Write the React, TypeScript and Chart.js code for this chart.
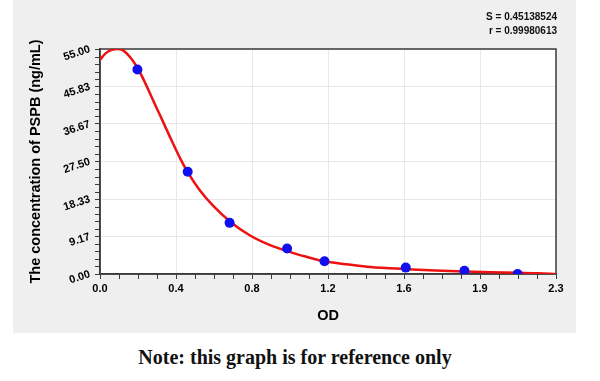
import React, { useEffect, useRef } from "react";
import { Chart, registerables } from "chart.js";

Chart.register(...registerables);

// Standard points (OD, concentration ng/mL)
const pointOD = [0.192, 0.45, 0.665, 0.96, 1.152, 1.569, 1.87, 2.143];
const pointConc = [50, 25, 12.5, 6.25, 3.125, 1.5625, 0.78, 0];

// Fitted curve
const curveOD = [0, 0.03, 0.06, 0.09, 0.12, 0.155, 0.19, 0.23, 0.27, 0.31, 0.36, 0.41, 0.45, 0.51, 0.58, 0.67, 0.77, 0.87, 0.96, 1.06, 1.15, 1.26, 1.37, 1.47, 1.57, 1.72, 1.87, 2.0, 2.14, 2.25, 2.34];
const curveConc = [52.4, 54.0, 54.8, 55.0, 54.6, 53.0, 50.6, 46.9, 42.7, 38.6, 33.4, 28.4, 24.9, 20.6, 16.7, 12.7, 9.4, 7.1, 5.6, 4.2, 3.1, 2.4, 1.8, 1.45, 1.2, 0.85, 0.6, 0.45, 0.3, 0.2, 0.0];

const xTickValues = [0, 0.39, 0.78, 1.17, 1.56, 1.95, 2.34];
const xTickLabels = ["0.0", "0.4", "0.8", "1.2", "1.6", "1.9", "2.3"];
const yTickValues = [0, 9.1667, 18.3333, 27.5, 36.6667, 45.8333, 55];
const yTickLabels = ["0.00", "9.17", "18.33", "27.50", "36.67", "45.83", "55.00"];

const statsLines = ["S = 0.45138524", "r = 0.99980613"];
const xTitle = "OD";
const yTitle = "The concentration of PSPB (ng/mL)";
const noteText = "Note: this graph is for reference only";

const FONT = "'Liberation Sans', Arial, sans-serif";
const AXIS_COLOR = "#3a3a3a";

const framePlugin = {
  id: "frameAndMinor",
  beforeDraw(chart: any) {
    const { ctx, chartArea } = chart;
    ctx.save();
    ctx.fillStyle = "#ffffff";
    ctx.fillRect(chartArea.left, chartArea.top, chartArea.right - chartArea.left, chartArea.bottom - chartArea.top);
    ctx.restore();
  },
  beforeDatasetsDraw(chart: any) {
    const { ctx, chartArea } = chart;
    const xs = chart.scales.x;
    const ys = chart.scales.y;
    ctx.save();
    ctx.strokeStyle = AXIS_COLOR;
    ctx.lineWidth = 1;
    // minor x ticks
    for (let i = 0; i < xTickValues.length - 1; i++) {
      const a = xTickValues[i];
      const b = xTickValues[i + 1];
      for (let k = 1; k < 4; k++) {
        const px = Math.round(xs.getPixelForValue(a + ((b - a) * k) / 4)) + 0.5;
        ctx.beginPath();
        ctx.moveTo(px, chartArea.bottom);
        ctx.lineTo(px, chartArea.bottom + 5);
        ctx.stroke();
      }
    }
    // minor y ticks
    for (let i = 0; i < yTickValues.length - 1; i++) {
      const a = yTickValues[i];
      const b = yTickValues[i + 1];
      for (let k = 1; k < 5; k++) {
        const py = Math.round(ys.getPixelForValue(a + ((b - a) * k) / 5)) + 0.5;
        ctx.beginPath();
        ctx.moveTo(chartArea.left - 5, py);
        ctx.lineTo(chartArea.left, py);
        ctx.stroke();
      }
    }
    // frame
    ctx.lineWidth = 1.5;
    ctx.strokeRect(chartArea.left, chartArea.top, chartArea.right - chartArea.left, chartArea.bottom - chartArea.top);
    ctx.restore();
  },
  afterDraw(chart: any) {
    const { ctx } = chart;
    ctx.save();
    ctx.font = `bold 10px ${FONT}`;
    ctx.fillStyle = "#111";
    ctx.textAlign = "right";
    ctx.textBaseline = "middle";
    ctx.fillText(statsLines[0], 557, 17);
    ctx.fillText(statsLines[1], 557, 31);
    ctx.restore();
  },
};

export default function App() {
  const ref = useRef<HTMLCanvasElement | null>(null);

  useEffect(() => {
    if (!ref.current) return;
    const chart = new Chart(ref.current, {
      type: "scatter",
      data: {
        datasets: [
          {
            label: "Standards",
            data: pointOD.map((x, i) => ({ x, y: pointConc[i] })),
            backgroundColor: "#1010ee",
            borderColor: "#1010ee",
            pointRadius: 5,
            pointBorderWidth: 0,
            showLine: false,
          },
          {
            label: "Fit",
            data: curveOD.map((x, i) => ({ x, y: curveConc[i] })),
            borderColor: "#ee1111",
            borderWidth: 2.5,
            pointRadius: 0,
            showLine: true,
            cubicInterpolationMode: "monotone",
            fill: false,
          },
        ],
      },
      options: {
        animation: false,
        responsive: false,
        devicePixelRatio: 1,
        layout: { padding: { left: 27, right: 44, top: 49, bottom: 8 } },
        plugins: {
          legend: { display: false },
          tooltip: { enabled: false },
        },
        scales: {
          x: {
            type: "linear",
            min: 0,
            max: 2.34,
            afterBuildTicks: (s: any) => {
              s.ticks = xTickValues.map((v) => ({ value: v }));
            },
            afterFit: (s: any) => {
              s.height = 51;
            },
            ticks: {
              autoSkip: false,
              maxRotation: 0,
              padding: 3,
              color: "#000",
              font: { family: FONT, size: 11, weight: "bold" },
              callback: (_v: any, i: number) => xTickLabels[i],
            },
            grid: {
              color: "#e8e8e8",
              lineWidth: 1,
              drawTicks: true,
              tickLength: 5,
              tickColor: AXIS_COLOR,
              tickWidth: 1,
            },
            border: { display: true, color: AXIS_COLOR, width: 1.5 },
            title: {
              display: true,
              text: xTitle,
              color: "#000",
              padding: 0,
              font: { family: FONT, size: 14.5, weight: "bold" },
            },
          },
          y: {
            type: "linear",
            min: 0,
            max: 55,
            afterBuildTicks: (s: any) => {
              s.ticks = yTickValues.map((v) => ({ value: v }));
            },
            afterFit: (s: any) => {
              s.width = 73;
            },
            ticks: {
              autoSkip: false,
              minRotation: 18,
              maxRotation: 18,
              padding: 5,
              color: "#000",
              font: { family: FONT, size: 11, weight: "bold" },
              callback: (_v: any, i: number) => yTickLabels[i],
            },
            grid: {
              color: "#e8e8e8",
              lineWidth: 1,
              drawTicks: true,
              tickLength: 5,
              tickColor: AXIS_COLOR,
              tickWidth: 1,
            },
            border: { display: true, color: AXIS_COLOR, width: 1.5 },
            title: {
              display: true,
              text: yTitle,
              color: "#000",
              padding: 0,
              font: { family: FONT, size: 14.5, weight: "bold" },
            },
          },
        },
      },
      plugins: [framePlugin],
    } as any);
    return () => chart.destroy();
  }, []);

  return (
    <div style={{ position: "absolute", left: 0, top: 0, width: 600, height: 381, background: "#fff" }}>
      <div style={{ position: "absolute", left: 13, top: 0, width: 563, height: 333, background: "#efefef" }} />
      <canvas ref={ref} width={600} height={333} style={{ position: "absolute", left: 0, top: 0, width: 600, height: 333 }} />
      <div
        style={{
          position: "absolute",
          left: 0,
          top: 345,
          width: 590,
          textAlign: "center",
          fontFamily: "'Liberation Serif', 'Times New Roman', serif",
          fontWeight: "bold",
          fontSize: 20,
          lineHeight: "24px",
          color: "#111",
        }}
      >
        {noteText}
      </div>
    </div>
  );
}
